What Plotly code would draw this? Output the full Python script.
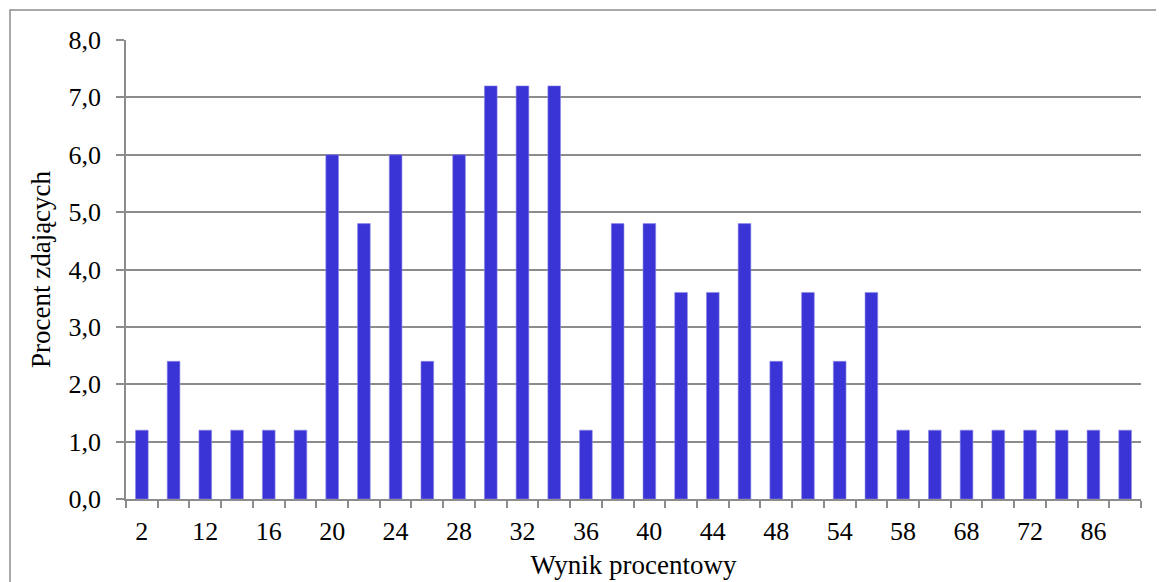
import plotly.graph_objects as go

# Category labels (score in %), every other one is displayed on the axis
categories = ["2", "8", "12", "14", "16", "18", "20", "22", "24", "26", "28", "30",
              "32", "34", "36", "38", "40", "42", "44", "46", "48", "52", "54", "56",
              "58", "62", "68", "70", "72", "80", "86", "90"]
values = [1.2, 2.4, 1.2, 1.2, 1.2, 1.2, 6.0, 4.8, 6.0, 2.4, 6.0, 7.2,
          7.2, 7.2, 1.2, 4.8, 4.8, 3.6, 3.6, 4.8, 2.4, 3.6, 2.4, 3.6,
          1.2, 1.2, 1.2, 1.2, 1.2, 1.2, 1.2, 1.2]
shown_labels = [c if i % 2 == 0 else "" for i, c in enumerate(categories)]

y_title = "Procent zdających"
x_title = "Wynik procentowy"

BAR = "#3A33D6"
GRID = "#8C8C8C"
FONT = "Liberation Serif"

fig = go.Figure(go.Bar(
    x=categories, y=values,
    marker=dict(color=BAR, line=dict(width=0.6, color="#8F8BE8")),
    width=0.4,
))

OFF = 8  # page body margin
W, H = 1164 - OFF, 582 - OFF
L, R, T, B = 126 - OFF, 23, 40 - OFF, 83
pw, ph = W - L - R, H - T - B

fig.update_layout(
    width=W, height=H,
    margin=dict(l=L, r=R, t=T, b=B, autoexpand=False),
    paper_bgcolor="white", plot_bgcolor="white",
    separators=", ",
    showlegend=False,
    font=dict(family=FONT, size=26, color="black"),
    xaxis=dict(
        type="category",
        tickmode="array", tickvals=categories, ticktext=shown_labels,
        tickson="boundaries", ticks="outside", ticklen=7, tickwidth=1.5, tickcolor=GRID,
        showline=True, linecolor=GRID, linewidth=1.5,
        showgrid=False, tickangle=0, ticklabelstandoff=8,
        title=dict(text=x_title, font=dict(size=27), standoff=10),
        automargin=False,
    ),
    yaxis=dict(
        range=[0, 8], dtick=1, tick0=0, tickformat=".1f",
        ticks="outside", ticklen=8, tickwidth=1.5, tickcolor=GRID,
        showline=True, linecolor=GRID, linewidth=1.5,
        showgrid=True, gridcolor=GRID, gridwidth=1.5,
        zeroline=False, ticklabelstandoff=10,
        title=dict(text=y_title, font=dict(size=27), standoff=10),
        automargin=False,
    ),
    shapes=[dict(
        type="rect", xref="paper", yref="paper",
        x0=(10 - OFF - L) / pw, x1=(W + 10 - L) / pw,
        y0=(H - B - (H + 10)) / ph, y1=(H - B - (10 - OFF)) / ph,
        line=dict(color=GRID, width=1.5), fillcolor="rgba(0,0,0,0)", layer="below",
    )],
)

fig.write_html("out.html")
